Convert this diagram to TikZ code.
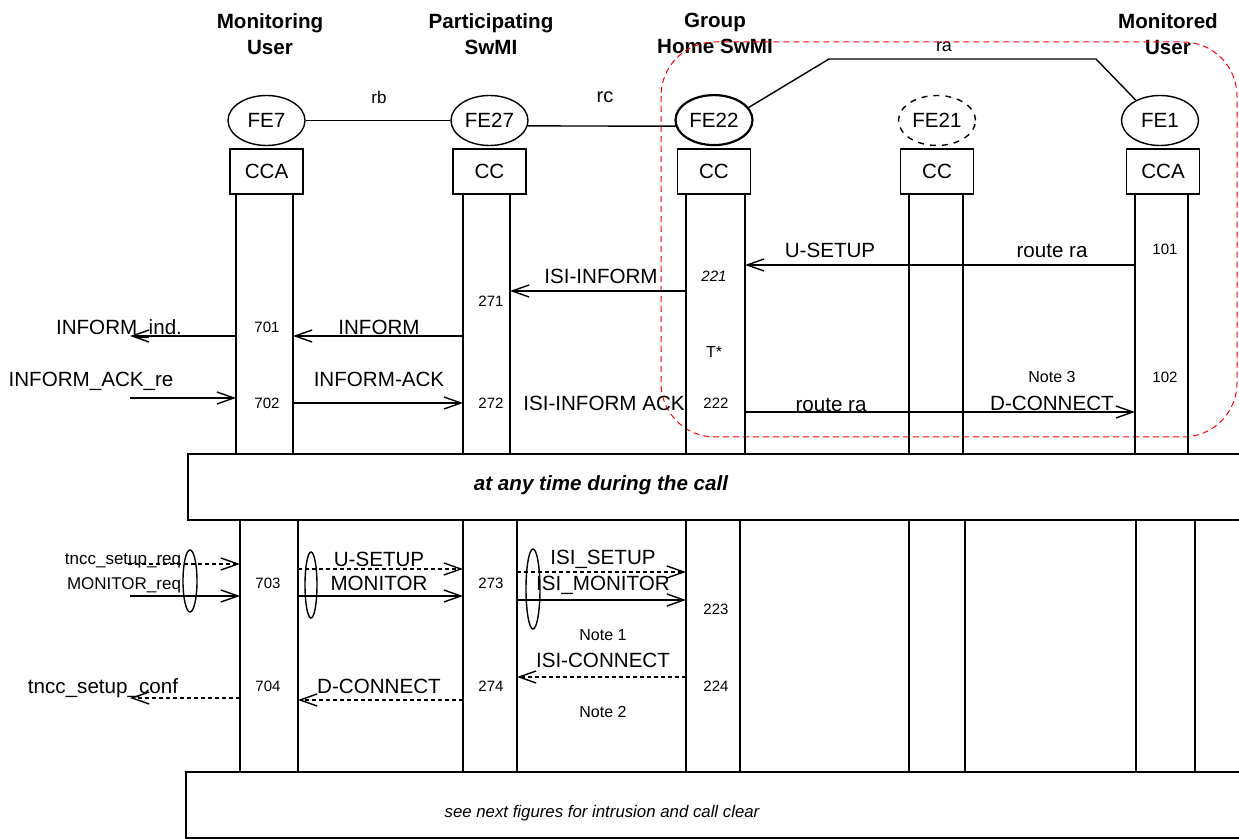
\documentclass[tikz,border=0pt]{standalone}
\usepackage{fontspec}
\setmainfont{Liberation Sans}
\usetikzlibrary{shapes.geometric,arrows.meta,positioning}

\begin{document}
\begin{tikzpicture}[
    x=0.5pt, y=-0.5pt,
    line width=0.7pt,
    >={Straight Barb[length=8.5pt, width=6pt]},
    lbl/.style={inner sep=0pt, font=\fontsize{10.3}{12}\selectfont,
        text height=7.4pt, text depth=0pt},
    num/.style={inner sep=0pt, font=\fontsize{7.5}{9}\selectfont,
        text height=5.4pt, text depth=0pt},
    note/.style={inner sep=0pt, font=\fontsize{8}{10}\selectfont,
        text height=5.7pt, text depth=0pt},
    small/.style={inner sep=0pt, font=\fontsize{8.5}{10}\selectfont,
        text height=6.1pt, text depth=0pt},
    hdr/.style={inner sep=0pt, align=center, anchor=north,
        font=\fontsize{10.3}{13}\selectfont\bfseries},
    fe/.style={
        ellipse, draw, minimum width=38.5pt, minimum height=25pt,
        inner sep=0pt, font=\fontsize{10.3}{12}\selectfont
    },
    fa/.style={
        rectangle, draw, line width=0.8pt,
        minimum width=36.5pt, minimum height=22.5pt,
        inner sep=0pt, font=\fontsize{10.3}{12}\selectfont
    },
    dmsg/.style={->, dash pattern=on 2pt off 1.5pt},
    grp/.style={ellipse, draw, inner sep=0pt},
    phase/.style={draw, line width=1.3pt}
]
    \useasboundingbox (0,0) rectangle (1239,839);

    % Headers
    \node [hdr] (h-mu) at (270,12.5) {Monitoring\\User};
    \node [hdr] (h-ps) at (491,12.5) {Participating\\SwMI};
    \node [hdr] (h-gh) at (715,12.5) {Group\\Home SwMI};
    \node [hdr] (h-mo) at (1168,12.5) {Monitored\\User};

    % Functional entities
    \node [fa] (cca7) at (266.5,171.5) {CCA};
    \node [fa] (cc27) at (489.5,171.5) {CC};
    \node [fa] (cc22) at (714,171.5) {CC};
    \node [fa] (cc21) at (937,171.5) {CC};
    \node [fa] (cca1) at (1163,171.5) {CCA};

    \node [fe, above=1pt of cca7] (fe7) {FE7};
    \node [fe, above=1pt of cc27] (fe27) {FE27};
    \node [fe, above=1pt of cc22, line width=1.1pt] (fe22) {FE22};
    \node [fe, above=1pt of cc21, dashed] (fe21) {FE21};
    \node [fe, above=1pt of cca1, xshift=-1.5pt] (fe1) {FE1};

    % Relations
    \draw (fe7.east) -- (fe27.west);
    \node [inner sep=0pt, font=\fontsize{8.5}{10}\selectfont] (rb) at (379,97) {rb};
    \draw (fe27.-8) -- (fe22.189);
    \node [inner sep=0pt, font=\fontsize{10}{12}\selectfont] (rc) at (605,97) {rc};
    \coordinate (ra-a) at (829,59);
    \coordinate (ra-b) at (1096,59);
    \draw (fe22.20) -- (ra-a) -- (ra-b) -- (fe1.140);
    \node [inner sep=0pt, font=\fontsize{9}{11}\selectfont] (ra) at (944,47) {ra};

    % Group home area
    \draw [red, line width=0.5pt, dash pattern=on 3pt off 2pt, rounded corners=27pt]
        (661,42) rectangle (1237,437);

    % Lifelines
    \foreach \x/\n in {236/um1, 293/um2, 463/up1, 510/up2, 686/ug1, 745/ug2,
                       909/uf1, 963/uf2, 1135/ue1, 1188/ue2} {
        \coordinate (\n) at (\x,194);
        \draw (\n) -- (\x,454);
    }
    \foreach \x/\n in {240/lm1, 298/lm2, 463/lp1, 517/lp2, 686/lg1, 740/lg2,
                       909/lf1, 965/lf2, 1136/le1, 1195/le2} {
        \coordinate (\n) at (\x,520);
        \draw (\n) -- (\x,772);
    }
    \coordinate (ext-a) at (130,0);
    \coordinate (ext-b) at (128,0);

    % Inform phase
    \node [lbl] (m-usetup) at (830,250) {U-SETUP};
    \node [lbl] (m-route1) at (1052,250) {route ra};
    \node [num] (n101) at (1165,249) {101};
    \draw [->] (ue1 |- 0,265) -- (ug2 |- 0,265);

    \node [num, font=\fontsize{7.5}{9}\selectfont\itshape] (n221) at (714,276) {221};
    \node [lbl] (m-isiinf) at (601,276) {ISI-INFORM};
    \draw [->] (ug1 |- 0,291) -- (up2 |- 0,291);
    \node [num] (n271) at (491,301) {271};

    \node [lbl] (m-inform) at (379,327) {INFORM};
    \node [num] (n701) at (267,327) {701};
    \draw [->] (up1 |- 0,336) -- (um2 |- 0,336);
    \node [lbl] (m-infind) at (119,327) {INFORM\_ind.};
    \draw [->] (um1 |- 0,336) -- (ext-a |- 0,336);

    \node [note] (tstar) at (714,352) {T*};

    \node [lbl] (m-infackre) at (91,379) {INFORM\_ACK\_re};
    \draw [->] (ext-a |- 0,398) -- (um1 |- 0,398);
    \node [lbl] (m-infack) at (379,379) {INFORM-ACK};
    \node [num] (n702) at (267,403) {702};
    \draw [->] (um2 |- 0,403) -- (up1 |- 0,403);
    \node [num] (n272) at (491,403) {272};
    \node [lbl] (m-isiack) at (604,403) {ISI-INFORM ACK};
    \node [num] (n222) at (716,403) {222};

    \node [note] (note3) at (1052,377) {Note 3};
    \node [num] (n102) at (1165,377) {102};
    \node [lbl] (m-route2) at (831,404) {route ra};
    \node [lbl] (m-dconn1) at (1052,403) {D-CONNECT};
    \draw [->] (ug2 |- 0,412) -- (ue1 |- 0,412);

    % At any time
    \draw [phase] (188,454) rectangle (1241,520);
    \node [lbl, font=\fontsize{10.3}{12}\selectfont\bfseries\itshape] (anytime) at (601,483)
        {at any time during the call};

    % Monitor phase
    \node [small] (m-tsreq) at (123,558) {tncc\_setup\_req};
    \draw [dmsg] (ext-b |- 0,564) -- (lm1 |- 0,564);
    \node [small] (m-monreq) at (124,583) {MONITOR\_req};
    \draw [->] (ext-a |- 0,596) -- (lm1 |- 0,596);
    \node [grp, minimum width=7pt, minimum height=31pt] (g-mu) at (190,581) {};
    \node [num] (n703) at (268,583) {703};

    \node [lbl] (m-usetup2) at (379,559) {U-SETUP};
    \draw [dmsg] (lm2 |- 0,569) -- (lp1 |- 0,569);
    \node [lbl] (m-monitor) at (379,583) {MONITOR};
    \draw [->] (lm2 |- 0,596) -- (lp1 |- 0,596);
    \node [grp, minimum width=6pt, minimum height=33pt] (g-ps) at (311,585) {};
    \node [num] (n273) at (491,583) {273};

    \node [lbl] (m-isisetup) at (603,557) {ISI\_SETUP};
    \draw [dmsg] (lp2 |- 0,572) -- (lg1 |- 0,572);
    \node [lbl] (m-isimon) at (603,583) {ISI\_MONITOR};
    \draw [->] (lp2 |- 0,600) -- (lg1 |- 0,600);
    \node [grp, minimum width=7pt, minimum height=40pt] (g-isi) at (533,589) {};
    \node [num] (n223) at (716,609) {223};
    \node [note] (note1) at (603,635) {Note 1};

    \node [lbl] (m-isiconn) at (603,660) {ISI-CONNECT};
    \draw [dmsg] (lg1 |- 0,677) -- (lp2 |- 0,677);
    \node [num] (n224) at (716,686) {224};
    \node [num] (n274) at (491,686) {274};
    \node [note] (note2) at (603,712) {Note 2};

    \node [lbl] (m-dconn2) at (379,686) {D-CONNECT};
    \draw [dmsg] (lp1 |- 0,700) -- (lm2 |- 0,700);
    \node [num] (n704) at (268,686) {704};
    \node [lbl] (m-tsconf) at (103,686) {tncc\_setup\_conf};
    \draw [dmsg] (lm1 |- 0,698) -- (ext-a |- 0,698);

    % Next figures
    \draw (186,772) rectangle (1241,838);
    \node [note, font=\fontsize{8.4}{10}\selectfont\itshape] (nextfig) at (602,812)
        {see next figures for intrusion and call clear};

\end{tikzpicture}
\end{document}
